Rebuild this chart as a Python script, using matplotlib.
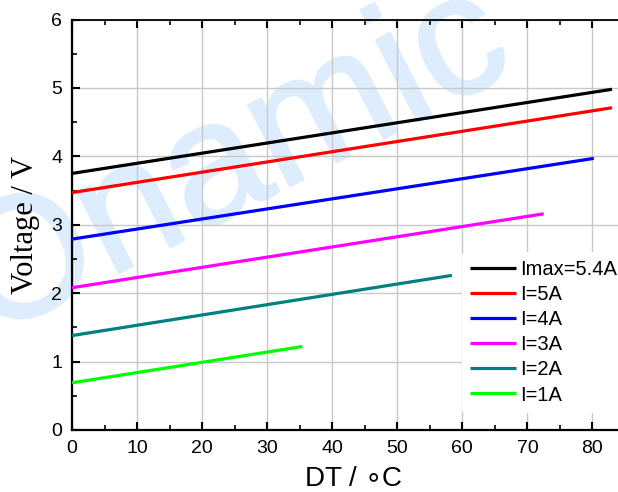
import matplotlib
matplotlib.use("Agg")
from matplotlib import pyplot as plt
from matplotlib import patheffects
from matplotlib.ticker import MultipleLocator

# temperature difference (C) at start / end of each curve, and voltage (V)
labels = ["Imax=5.4A", "I=5A", "I=4A", "I=3A", "I=2A", "I=1A"]
dt_start = [0, 0, 0, 0, 0, 0]
dt_end = [83.0, 83.0, 80.2, 72.5, 58.4, 35.4]
v_start = [3.75, 3.47, 2.79, 2.08, 1.38, 0.69]
v_end = [4.98, 4.71, 3.97, 3.16, 2.26, 1.22]
colors = ["#000000", "#ff0000", "#0000ff", "#ff00ff", "#008080", "#00ff00"]

plt.rcParams["font.family"] = ["Liberation Sans", "DejaVu Sans"]

fig = plt.figure(figsize=(6.18, 4.92), dpi=100)
ax = fig.add_axes([72 / 618, 62 / 492, 546.5 / 618, 410.5 / 492])

# watermark (behind the axes, which are transparent)
wm = fig.text(0.378, 0.665, "Onamic", fontsize=124, rotation=27, color="#ddedfd",
              ha="center", va="center", zorder=-1)
wm.set_path_effects([patheffects.withStroke(linewidth=1.8, foreground="#ddedfd")])

for i in range(len(labels)):
    ax.plot([dt_start[i], dt_end[i]], [v_start[i], v_end[i]], color=colors[i],
            lw=2.3, label=labels[i], solid_capstyle="butt", zorder=3)

ax.set_xlim(0, 84)
ax.set_ylim(0, 6)
ax.xaxis.set_major_locator(MultipleLocator(10))
ax.xaxis.set_minor_locator(MultipleLocator(5))
ax.yaxis.set_major_locator(MultipleLocator(1))
ax.yaxis.set_minor_locator(MultipleLocator(0.5))
ax.grid(True, which="major", color="#c8c8c8", lw=1.0, zorder=0)
ax.set_axisbelow(True)
ax.patch.set_alpha(0)

ax.tick_params(which="both", direction="in", top=True, right=False,
               labelsize=14, pad=7)
ax.tick_params(which="major", length=6, width=1.5)
ax.tick_params(which="minor", length=3.5, width=1.2)
ax.spines["right"].set_visible(False)
ax.spines["left"].set_linewidth(1.6)
ax.spines["bottom"].set_linewidth(1.6)
ax.spines["top"].set_linewidth(1.3)

ax.set_xlabel(r"DT / $\circ$C", fontsize=20, labelpad=7, x=0.515)
ax.set_ylabel("Voltage / V", fontsize=22, family=["Liberation Serif", "DejaVu Serif"],
              labelpad=8)

leg = ax.legend(loc="upper left", bbox_to_anchor=(0.714, 0.433), frameon=True,
                fontsize=14.5, handlelength=2.25, labelspacing=0.3,
                handletextpad=0.25, borderaxespad=0, borderpad=0.4)
leg.get_frame().set_edgecolor("none")
leg.get_frame().set_facecolor("white")
leg.get_frame().set_alpha(1)

fig.savefig("out.png", dpi=100)
